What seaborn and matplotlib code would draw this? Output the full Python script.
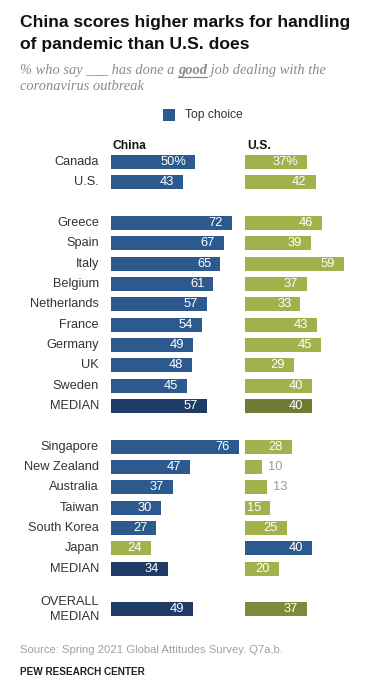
import pandas as pd
import matplotlib
matplotlib.use("Agg")
import matplotlib.pyplot as plt
import seaborn as sns
from matplotlib.patches import Rectangle
from matplotlib.lines import Line2D

# Data (None = spacer row)
rows = ["Canada", "U.S.", "gap1",
        "Greece", "Spain", "Italy", "Belgium", "Netherlands", "France",
        "Germany", "UK", "Sweden", "MEDIAN_EU", "gap2",
        "Singapore", "New Zealand", "Australia", "Taiwan", "South Korea",
        "Japan", "MEDIAN_AP", "gap3", "OVERALL"]
row_labels = ["Canada", "U.S.", "",
              "Greece", "Spain", "Italy", "Belgium", "Netherlands", "France",
              "Germany", "UK", "Sweden", "MEDIAN", "",
              "Singapore", "New Zealand", "Australia", "Taiwan", "South Korea",
              "Japan", "MEDIAN", "", "OVERALL\nMEDIAN"]
china = [50, 43, None, 72, 67, 65, 61, 57, 54, 49, 48, 45, 57, None,
         76, 47, 37, 30, 27, 24, 34, None, 49]
us = [37, 42, None, 46, 39, 59, 37, 33, 43, 45, 29, 40, 40, None,
      28, 10, 13, 15, 25, 40, 20, None, 37]
china_kind = ["top", "top", None] + ["top"] * 9 + ["med_top", None] + \
             ["top"] * 5 + ["other", "med_top", None, "med_top"]
us_kind = ["other", "other", None] + ["other"] * 9 + ["med_other", None] + \
          ["other"] * 5 + ["top", "other", None, "overall_other"]

colors = {"top": "#2d5a8e", "med_top": "#1f3c66", "other": "#a3b14d",
          "med_other": "#6f7b35", "overall_other": "#7d8a3b"}

W, H = 391, 690
fig = plt.figure(figsize=(W / 100, H / 100), dpi=100)
plt.rcParams["font.family"] = ["Liberation Sans", "DejaVu Sans"]

row_h = 20.33
y0 = 162
top_px = y0 - 0.6 * row_h
bot_px = y0 + 22.6 * row_h
scale = 1.68  # px per percentage point
xmax = 80
ax_w = xmax * scale / W


def make_ax(left_px, values, kinds):
    ax = fig.add_axes([left_px / W, 1 - bot_px / H, ax_w, (bot_px - top_px) / H])
    df = pd.DataFrame({"row": rows, "val": values, "kind": kinds}).dropna()
    pal = {r: colors[k] for r, k in zip(df["row"], df["kind"])}
    sns.barplot(data=df, x="val", y="row", hue="row", order=rows,
                palette=pal, orient="h", width=0.68, legend=False,
                saturation=1, ax=ax)
    ax.set_xlim(0, xmax)
    ax.set_ylim(22.6, -0.6)
    ax.axis("off")
    for i, r in enumerate(rows):
        v = df.loc[df["row"] == r, "val"]
        if v.empty:
            continue
        v = float(v.iloc[0])
        txt = f"{v:.0f}%" if r == "Canada" else f"{v:.0f}"
        if v < 14:
            ax.annotate(txt, (v, i), xytext=(4.5, 0), textcoords="offset points",
                        ha="left", va="center", fontsize=9.3, color="#9a9a9a")
        else:
            ax.annotate(txt, (v, i), xytext=(-6.5, 0), textcoords="offset points",
                        ha="right", va="center", fontsize=9.3, color="white")
    return ax


ax_cn = make_ax(111, china, china_kind)
ax_us = make_ax(245, us, us_kind)

# row labels
for i, lab in enumerate(row_labels):
    if lab:
        fig.text(99 / W, 1 - (y0 + i * row_h) / H, lab, ha="right", va="center",
                 fontsize=9.2, color="#333333", linespacing=1.3,
                 multialignment="right")

# column headers
fig.text(113 / W, 1 - 146 / H, "China", fontsize=8.7, fontweight="bold",
         color="#111111", va="center")
fig.text(247 / W, 1 - 146 / H, "U.S.", fontsize=8.7, fontweight="bold",
         color="#111111", va="center")

# title
fig.text(20 / W, 1 - 27 / H, "China scores higher marks for handling",
         fontsize=12.6, fontweight="bold", color="#111111", va="baseline")
fig.text(20 / W, 1 - 49 / H, "of pandemic than U.S. does",
         fontsize=12.6, fontweight="bold", color="#111111", va="baseline")

# subtitle with bold underlined "good"
sub_color = "#8a8a8a"
sub_kw = dict(fontsize=10.4, style="italic", color=sub_color,
              family=["Liberation Serif", "DejaVu Serif"], va="baseline")
t1 = fig.text(20 / W, 1 - 74 / H, "% who say ___ has done a ", **sub_kw)
fig.canvas.draw()
r = fig.canvas.get_renderer()
bb1 = t1.get_window_extent(r)
t2 = fig.text(bb1.x1 / W, 1 - 74 / H, "good", fontweight="bold", **sub_kw)
bb2 = t2.get_window_extent(r)
fig.add_artist(Line2D([bb2.x0 / W, bb2.x1 / W], [1 - 76.5 / H, 1 - 76.5 / H],
                      color=sub_color, lw=0.9))
fig.text(bb2.x1 / W, 1 - 74 / H, " job dealing with the", **sub_kw)
fig.text(20 / W, 1 - 90 / H, "coronavirus outbreak", **sub_kw)

# legend
fig.add_artist(Rectangle((163 / W, 1 - 121 / H), 12 / W, 12 / H,
                         facecolor=colors["top"], edgecolor="none",
                         transform=fig.transFigure))
fig.text(185 / W, 1 - 115 / H, "Top choice", fontsize=8.7, color="#333333",
         va="center")

# footer
fig.text(20 / W, 1 - 650 / H, "Source: Spring 2021 Global Attitudes Survey. Q7a,b.",
         fontsize=8.1, color="#a0a0a0", va="center")
fig.text(20 / W, 1 - 672 / H, "PEW RESEARCH CENTER", fontsize=7.2,
         fontweight="bold", color="#222222", va="center")

fig.savefig("out.png", dpi=100, facecolor="white")
